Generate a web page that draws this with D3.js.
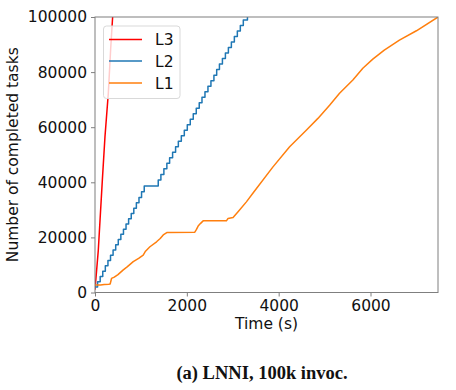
<!DOCTYPE html>
<html><head><meta charset="utf-8">
<script src="https://cdn.jsdelivr.net/npm/d3@7"></script>
<style>body{margin:0;background:#fff}svg{display:block}</style>
</head><body>
<svg id="c" width="456" height="390"></svg>
<script>
// L3 (red)
const l3T = [0, 72, 160, 217, 290, 340, 384];
const l3V = [1000, 15400, 40800, 56500, 72300, 88000, 100000];
// L2 (blue, stepped)
const l2T = [0, 56, 113, 169, 225, 282, 338, 394, 451, 507, 563, 620, 676, 732, 789, 845, 901, 958, 1014, 1072,
  1377, 1435, 1500, 1565, 1625, 1690, 1755, 1815, 1880, 1945, 2010, 2075, 2140, 2205, 2270, 2330, 2395, 2460,
  2525, 2590, 2650, 2710, 2775, 2840, 2905, 2970, 3035, 3100, 3165, 3230, 3320];
const l2V = [2000, 3900, 5800, 7700, 9700, 11600, 13500, 15400, 17300, 19200, 21100, 23000, 24900, 26800, 28700, 30600, 32600, 34500, 36600, 38700,
  40800, 42800, 44900, 46900, 48900, 50900, 52900, 54900, 56900, 58900, 60900, 62900, 64900, 66900, 68900, 70900, 72900, 74900,
  76900, 78900, 80900, 82900, 84900, 86900, 88900, 90900, 92900, 94900, 96900, 98900, 100000];
// L1 (orange)
const l1T = [0, 120, 200, 300, 330, 360, 420, 500, 616, 700, 833, 950, 1050, 1100, 1196, 1341, 1420, 1486, 1572, 2174, 2210, 2246, 2300, 2355, 2862, 2898, 3007, 3116, 3297, 3442, 3876, 4239, 4601, 4855, 5109, 5326, 5616, 5833, 6050, 6300, 6630, 7000, 7470];
const l1V = [2700, 2700, 2900, 3000, 3100, 5100, 5600, 6500, 8200, 9300, 11200, 12400, 13600, 15000, 16600, 18400, 19600, 20900, 21800, 21900, 22900, 24100, 25100, 26000, 26000, 26900, 27200, 29300, 32900, 36100, 45600, 52900, 58900, 63200, 68000, 72300, 77100, 81400, 84700, 88000, 91600, 95000, 100000];

const xTicks = [0, 2000, 4000, 6000];
const yTicks = [0, 20000, 40000, 60000, 80000, 100000];
const seriesNames = ["L3", "L2", "L1"];
const seriesColors = ["#ff0000", "#1f77b4", "#ff7f0e"];

const svg = d3.select("#c");
const L = 95, R = 438, T = 17, B = 292.5;
const x = d3.scaleLinear().domain([0, 7470]).range([L, R]);
const y = d3.scaleLinear().domain([0, 100000]).range([B, T]);
const font = "'DejaVu Sans', sans-serif";
const axisCol = "#7f7f7f";

svg.append("defs").append("clipPath").attr("id", "clip")
  .append("rect").attr("x", L).attr("y", T).attr("width", R - L).attr("height", B - T);

const series = [
  {t: l3T, v: l3V, curve: d3.curveLinear},
  {t: l2T, v: l2V, curve: d3.curveStepAfter},
  {t: l1T, v: l1V, curve: d3.curveLinear}
];
const g = svg.append("g").attr("clip-path", "url(#clip)");
series.forEach((s, i) => {
  const pts = s.t.map((t, j) => [t, s.v[j]]);
  const line = d3.line().x(d => x(d[0])).y(d => y(d[1])).curve(s.curve);
  g.append("path").attr("d", line(pts)).attr("fill", "none")
    .attr("stroke", seriesColors[i]).attr("stroke-width", 1.5).attr("stroke-linejoin", "round");
});

// frame
svg.append("rect").attr("x", L).attr("y", T).attr("width", R - L).attr("height", B - T)
  .attr("fill", "none").attr("stroke", axisCol).attr("stroke-width", 1);

const xa = svg.append("g").attr("transform", `translate(0,${B})`)
  .call(d3.axisBottom(x).tickValues(xTicks).tickFormat(d3.format("d")).tickSize(4).tickPadding(3));
const ya = svg.append("g").attr("transform", `translate(${L},0)`)
  .call(d3.axisLeft(y).tickValues(yTicks).tickFormat(d3.format("d")).tickSize(4).tickPadding(4));
[xa, ya].forEach(a => {
  a.select(".domain").remove();
  a.selectAll("line").attr("stroke", axisCol);
  a.selectAll("text").attr("font-family", font).attr("font-size", 15.5).attr("fill", "#111");
});

svg.append("text").attr("x", (L + R) / 2).attr("y", 329).attr("text-anchor", "middle")
  .attr("font-family", font).attr("font-size", 15.5).attr("fill", "#111").text("Time (s)");
svg.append("text").attr("transform", `translate(18,${(T + B) / 2}) rotate(-90)`).attr("text-anchor", "middle")
  .attr("font-family", font).attr("font-size", 15.5).attr("fill", "#111").text("Number of completed tasks");

// legend
const lg = svg.append("g");
lg.append("rect").attr("x", 103.5).attr("y", 26).attr("width", 76.5).attr("height", 72.5).attr("rx", 3)
  .attr("fill", "#fff").attr("fill-opacity", 0.8).attr("stroke", "#d9d9d9");
const legY = [39.5, 61, 83];
seriesNames.forEach((n, i) => {
  lg.append("line").attr("x1", 109).attr("x2", 142).attr("y1", legY[i]).attr("y2", legY[i])
    .attr("stroke", seriesColors[i]).attr("stroke-width", 1.5);
  lg.append("text").attr("x", 155).attr("y", legY[i]).attr("dy", "0.36em")
    .attr("font-family", font).attr("font-size", 15.5).attr("fill", "#111").text(n);
});

svg.append("text").attr("x", 262).attr("y", 379).attr("text-anchor", "middle")
  .attr("font-family", "'Liberation Serif', serif").attr("font-weight", "bold").attr("font-size", 18.5)
  .attr("fill", "#111").text("(a) LNNI, 100k invoc.");
</script>
</body></html>
